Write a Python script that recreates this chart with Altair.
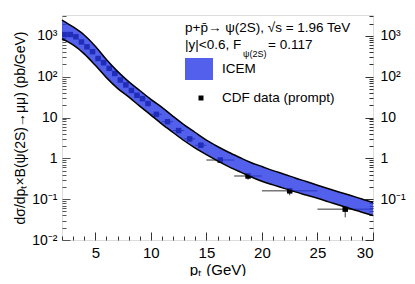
import altair as alt
import pandas as pd

# ---------------- data ----------------
band_pt = list(range(2, 31))
band_hi = [2450, 1660, 1050, 560, 263, 135, 76, 46, 28, 17.8, 10.7, 6.6, 4.3, 2.8, 1.95,
           1.41, 1.05, 0.79, 0.63, 0.50, 0.41, 0.33, 0.27, 0.22, 0.18, 0.148, 0.123, 0.101, 0.083]
band_lo = [850, 600, 363, 190, 95, 52, 32, 19, 11.5, 6.9, 4.3, 2.7, 1.78, 1.23, 0.87,
           0.63, 0.47, 0.355, 0.275, 0.224, 0.184, 0.151, 0.126, 0.105, 0.086, 0.071, 0.058, 0.048, 0.040]

cdf_pt = [2.25, 2.75, 3.25, 3.75, 4.25, 4.75, 5.25, 5.75, 6.25, 6.75, 7.25, 7.75, 8.25, 8.75,
          9.25, 9.75, 10.5, 11.5, 12.5, 13.5, 14.5, 16.25, 18.75, 22.5, 27.5]
cdf_xlo = [2.0, 2.5, 3.0, 3.5, 4.0, 4.5, 5.0, 5.5, 6.0, 6.5, 7.0, 7.5, 8.0, 8.5,
           9.0, 9.5, 10, 11, 12, 13, 14, 15, 17.5, 20, 25]
cdf_xhi = [2.5, 3.0, 3.5, 4.0, 4.5, 5.0, 5.5, 6.0, 6.5, 7.0, 7.5, 8.0, 8.5, 9.0,
           9.5, 10, 11, 12, 13, 14, 15, 17.5, 20, 25, 30]
cdf_val = [1080, 1080, 950, 710, 540, 410, 280, 220, 160, 120, 83, 63, 46, 35,
           29, 22, 12, 7.9, 4.8, 3.0, 2.1, 0.91, 0.37, 0.16, 0.057]
cdf_ylo = [1000, 1000, 880, 660, 500, 380, 260, 204, 148, 111, 77, 58, 42, 32,
           26.5, 20, 11, 7.2, 4.4, 2.7, 1.9, 0.82, 0.30, 0.125, 0.036]
cdf_yhi = [1160, 1160, 1020, 760, 580, 440, 300, 236, 172, 129, 89, 68, 50, 38,
           31.5, 24, 13, 8.6, 5.2, 3.3, 2.3, 1.0, 0.43, 0.185, 0.066]

y_major = [0.01, 0.1, 1, 10, 100, 1000]
y_major_labels = ["10⁻²", "10⁻¹", "1", "10", "10²", "10³"]
y_right_values = [0.1, 1, 10, 100, 1000]
x_major = [5, 10, 15, 20, 25, 30]

legend_line1 = "p+p̄→ ψ(2S), √s = 1.96 TeV"
legend_line2a = "|y|<0.6, F"
legend_line2b = "ψ(2S)"
legend_line2c = "= 0.117"
legend_band = "ICEM"
legend_data = "CDF data (prompt)"
x_title = "pₜ (GeV)"
y_title = "dσ/dpₜ×B(ψ(2S)→μμ) (pb/GeV)"

# ---------------- layout ----------------
W, H = 311, 225
FONT = "Liberation Sans"
BAND_COLOR = "#2838e6"
BAND_OPACITY = 0.8

band = pd.DataFrame({"pt": band_pt, "hi": band_hi, "lo": band_lo})
cdf = pd.DataFrame({"pt": cdf_pt, "xlo": cdf_xlo, "xhi": cdf_xhi,
                    "val": cdf_val, "ylo": cdf_ylo, "yhi": cdf_yhi})

y_minor = []
for d in range(-2, 4):
    for k in range(1, 10):
        v = k * 10.0 ** d
        if v <= 3250:
            y_minor.append(round(v, 6))
x_minor = list(range(2, 31))

xscale = alt.Scale(domain=[2, 30], nice=False, zero=False)
yscale = alt.Scale(type="log", domain=[0.01, 3250], nice=False)

label_expr = ("datum.value < 0.05 ? '%s' : datum.value < 0.5 ? '%s' : datum.value < 5 ? '%s' : "
              "datum.value < 50 ? '%s' : datum.value < 500 ? '%s' : '%s'") % tuple(y_major_labels)

x_axis_main = alt.Axis(orient="bottom", values=x_major, ticks=False, domain=False, grid=False,
                       labelFontSize=15, labelPadding=5, labelFont=FONT, labelColor="black",
                       title=x_title, titleFontSize=15, titleFont=FONT, titleFontWeight="normal",
                       titlePadding=2, titleColor="black")
y_axis_main = alt.Axis(orient="left", values=y_major, labelExpr=label_expr, ticks=False, domain=False,
                       grid=False, labelFontSize=14, labelPadding=5, labelFont=FONT, labelColor="black",
                       title=y_title, titleFontSize=14, titleFont=FONT, titleFontWeight="normal",
                       titlePadding=4, titleColor="black")

X = lambda f: alt.X(f, type="quantitative", scale=xscale, axis=x_axis_main)
Y = lambda f: alt.Y(f, type="quantitative", scale=yscale, axis=y_axis_main)

xerr = alt.Chart(cdf).mark_rule(color="#333333", strokeWidth=1).encode(
    x=X("xlo"), x2="xhi", y=Y("val"))
yerr = alt.Chart(cdf).mark_rule(color="#333333", strokeWidth=1).encode(
    x=X("pt"), y=Y("ylo"), y2="yhi")
pts = alt.Chart(cdf).mark_square(color="black", size=30, opacity=1).encode(
    x=X("pt"), y=Y("val"))
area = alt.Chart(band).mark_area(color=BAND_COLOR, opacity=BAND_OPACITY, interpolate="monotone").encode(
    x=X("pt"), y=Y("hi"), y2="lo")
line_hi = alt.Chart(band).mark_line(color="black", strokeWidth=1.5, interpolate="monotone").encode(
    x=X("pt"), y=Y("hi"))
line_lo = alt.Chart(band).mark_line(color="black", strokeWidth=1.5, interpolate="monotone").encode(
    x=X("pt"), y=Y("lo"))

one = pd.DataFrame({"a": [0]})


def txt(s, x, y, size=13.5):
    return alt.Chart(one).mark_text(text=s, font=FONT, fontSize=size, align="left",
                                    baseline="middle", color="black").encode(
        x=alt.value(x), y=alt.value(y))


leg_rect = alt.Chart(one).mark_rect(color=BAND_COLOR, opacity=BAND_OPACITY).encode(
    x=alt.value(123), x2=alt.value(151), y=alt.value(43), y2=alt.value(65))
leg_sq = alt.Chart(one).mark_square(color="black", size=25, opacity=1).encode(
    x=alt.value(139), y=alt.value(83))

main = alt.layer(
    xerr, yerr, pts, area, line_hi, line_lo,
    txt(legend_line1, 123, 13),
    txt(legend_line2a, 123, 30),
    txt(legend_line2b, 181, 39, 9),
    txt(legend_line2c, 206, 30),
    leg_rect, txt(legend_band, 160, 54),
    leg_sq, txt(legend_data, 160, 83),
)

ycond = {"condition": {"test": "abs(log(datum.value)/LN10 - round(log(datum.value)/LN10)) < 0.001",
                       "value": 8}, "value": 4}
xcond = {"condition": {"test": "datum.value % 5 === 0", "value": 8}, "value": 4}

ticks_a = alt.Chart(band).mark_point(opacity=0).encode(
    x=alt.X("pt:Q", scale=xscale,
            axis=alt.Axis(orient="top", offset=-H, values=x_minor, labels=False, domain=False,
                          grid=False, title=None, tickSize=xcond, tickColor="#333333", tickWidth=1)),
    y=alt.Y("hi:Q", scale=yscale,
            axis=alt.Axis(orient="right", offset=-W, values=y_minor, labels=False, domain=False,
                          grid=False, title=None, tickSize=ycond, tickColor="#555555", tickWidth=1)),
)
right_labels = alt.Chart(band).mark_point(opacity=0).encode(
    x=alt.X("pt:Q", scale=xscale, axis=None),
    y=alt.Y("hi:Q", scale=yscale,
            axis=alt.Axis(orient="right", values=y_right_values, labelExpr=label_expr, ticks=False,
                          domain=False, grid=False, title=None, labelFontSize=14, labelPadding=7,
                          labelFont=FONT, labelColor="black")),
)
right_ticks = alt.Chart(band).mark_point(opacity=0).encode(
    x=alt.X("pt:Q", scale=xscale, axis=None),
    y=alt.Y("hi:Q", scale=yscale,
            axis=alt.Axis(orient="left", offset=-W, values=y_minor, labels=False, domain=False,
                          grid=False, title=None, tickSize=ycond, tickColor="#333333", tickWidth=1)),
)

chart = alt.layer(main, ticks_a, right_labels, right_ticks).resolve_scale(
    x="independent", y="independent"
).properties(
    width=W, height=H,
    autosize=alt.AutoSizeParams(type="none"),
    padding={"left": 54, "top": 7, "right": 34, "bottom": 36},
).configure_view(stroke="black", strokeWidth=1).configure(background="white")

chart.save("out.html", embed_options={"renderer": "svg", "actions": False})
